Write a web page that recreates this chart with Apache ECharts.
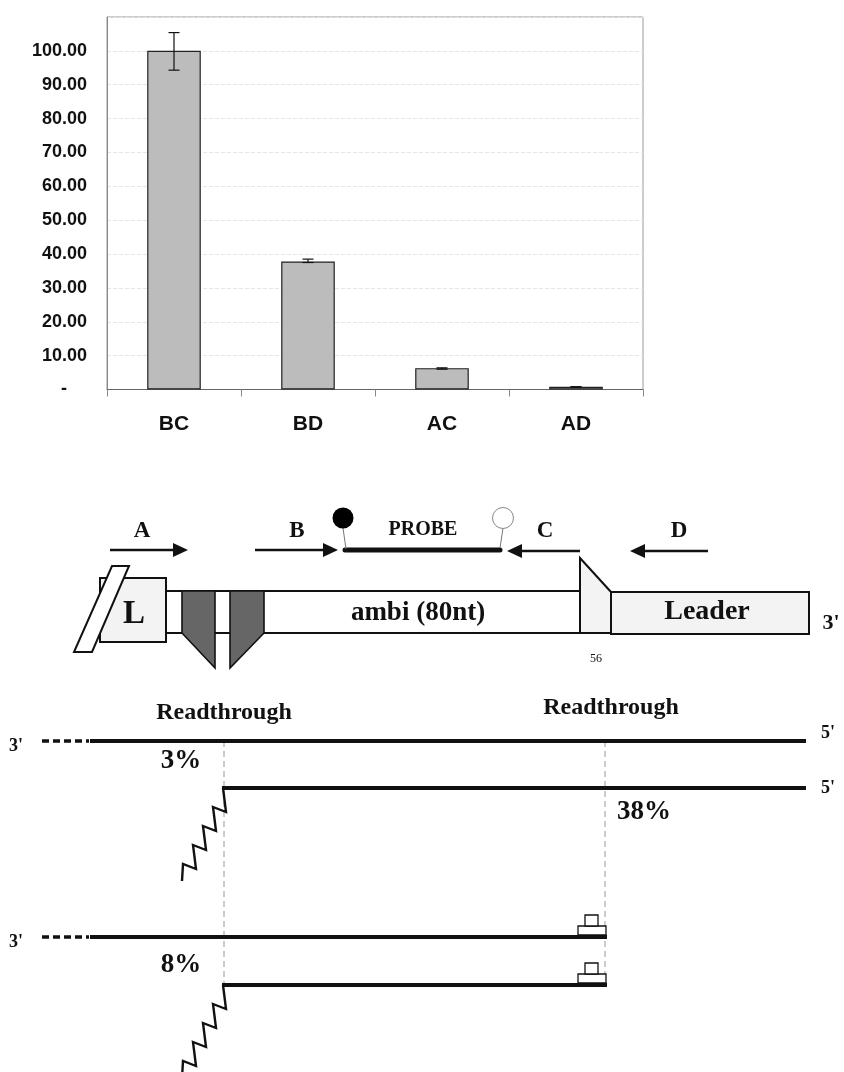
<!DOCTYPE html>
<html>
<head>
<meta charset="utf-8">
<script src="https://cdn.jsdelivr.net/npm/echarts@6/dist/echarts.min.js"></script>
<style>
html,body{margin:0;padding:0;background:#fff;}
#chart{width:844px;height:1072px;}
</style>
</head>
<body>
<div id="chart"></div>
<script>
// ---- chart data ----
var categories = ['BC', 'BD', 'AC', 'AD'];
var values = [100.0, 37.8, 6.3, 0.8];
var errLow = [94.3, 37.5, 6.0, 0.8];
var errHigh = [105.4, 38.5, 6.4, 0.8];
var yTicks = [0, 10, 20, 30, 40, 50, 60, 70, 80, 90, 100, 110];

// ---- schematic labels ----
var primerLabels = ['A', 'B', 'C', 'D'];
var probeLabel = 'PROBE';
var regionLabels = ['L', 'ambi (80nt)', 'Leader'];
var readthroughPct = ['3%', '38%', '8%'];

var chart = echarts.init(document.getElementById('chart'));

var serif = '"Liberation Serif", "Times New Roman", serif';
function txt(t, x, y, size, opts) {
  opts = opts || {};
  return {
    type: 'text', x: x, y: y, z: 10,
    style: {
      text: t,
      font: (opts.normal ? '' : 'bold ') + size + 'px ' + serif,
      fill: opts.fill || '#111',
      align: opts.align || 'center',
      verticalAlign: 'middle'
    }
  };
}
function ln(x1, y1, x2, y2, w, opts) {
  opts = opts || {};
  return {
    type: 'line', z: opts.z || 5,
    shape: {x1: x1, y1: y1, x2: x2, y2: y2},
    style: {stroke: opts.color || '#111', lineWidth: w, lineDash: opts.dash || null, lineCap: opts.cap || 'butt'}
  };
}
function poly(points, fill, w, z) {
  return {type: 'polygon', z: z || 5, shape: {points: points}, style: {fill: fill, stroke: '#111', lineWidth: w}};
}
function arrow(x1, x2, y) {
  var dir = x2 > x1 ? 1 : -1;
  var hl = 15, hh = 7;
  return [
    ln(x1, y, x2 - dir * hl + dir * 2, y, 2.6),
    {type: 'polygon', z: 5, shape: {points: [[x2, y], [x2 - dir * hl, y - hh], [x2 - dir * hl, y + hh]]}, style: {fill: '#111'}}
  ];
}
function zigzag(x0, y0) {
  var off = [[0,0],[3,24],[-10,19],[-7,43],[-20,38],[-17,62],[-30,57],[-27,81],[-40,76],[-41,93]];
  return {
    type: 'polyline', z: 6,
    shape: {points: off.map(function (p) { return [x0 + p[0], y0 + p[1]]; })},
    style: {stroke: '#111', lineWidth: 2.4, fill: null, lineJoin: 'miter'}
  };
}

var g = [];
// primers
g = g.concat(arrow(110, 188, 550), arrow(255, 338, 550), arrow(580, 507, 551), arrow(708, 630, 551));
g.push(txt(primerLabels[0], 142, 531, 23), txt(primerLabels[1], 297, 531, 23), txt(primerLabels[2], 545, 531, 23), txt(primerLabels[3], 679, 531, 23));
// probe
g.push(ln(345, 550, 500, 550, 5, {cap: 'round'}));
g.push(ln(343, 528, 346, 549, 1, {color: '#777'}));
g.push(ln(503, 528, 500, 548, 1, {color: '#777'}));
g.push({type: 'circle', z: 6, shape: {cx: 343, cy: 518, r: 10.5}, style: {fill: '#000'}});
g.push({type: 'circle', z: 6, shape: {cx: 503, cy: 518, r: 10.5}, style: {fill: '#fff', stroke: '#888', lineWidth: 1}});
g.push(txt(probeLabel, 423, 530, 20));
// construct
g.push({type: 'rect', z: 3, shape: {x: 100, y: 578, width: 66, height: 64}, style: {fill: '#f3f3f3', stroke: '#111', lineWidth: 2}});
g.push(poly([[112, 566], [129, 566], [92, 652], [74, 652]], '#fff', 2, 4));
g.push({type: 'rect', z: 3, shape: {x: 166, y: 591, width: 414, height: 42}, style: {fill: '#fff', stroke: '#111', lineWidth: 2}});
g.push(poly([[182, 591], [215, 591], [215, 668], [182, 633]], '#666', 1.6, 5));
g.push(poly([[230, 591], [264, 591], [264, 633], [230, 668]], '#666', 1.6, 5));
g.push(poly([[580, 558], [611, 592], [611, 633], [580, 633]], '#f3f3f3', 2, 4));
g.push({type: 'rect', z: 3, shape: {x: 611, y: 592, width: 198, height: 42}, style: {fill: '#f3f3f3', stroke: '#111', lineWidth: 2}});
g.push(txt(regionLabels[0], 134, 614, 33));
g.push(txt(regionLabels[1], 418, 613, 27));
g.push(txt(regionLabels[2], 707, 612, 28));
g.push(txt("3'", 831, 623, 22));
g.push(txt('56', 596, 659, 12, {normal: true}));
// readthrough section
g.push(txt('Readthrough', 224, 713, 24));
g.push(txt('Readthrough', 611, 708, 24));
g.push(ln(224, 741, 224, 985, 1, {color: '#999', dash: [6, 4]}));
g.push(ln(605, 741, 605, 985, 1, {color: '#999', dash: [6, 4]}));
// upper pair
g.push(txt("3'", 16, 746, 18));
g.push(ln(42, 741, 89, 741, 3.5, {dash: [7, 4]}));
g.push(ln(90, 741, 806, 741, 4));
g.push(txt("5'", 828, 733, 18));
g.push(txt(readthroughPct[0], 181, 761, 27));
g.push(ln(222, 788, 806, 788, 4));
g.push(txt("5'", 828, 788, 18));
g.push(txt(readthroughPct[1], 644, 812, 27));
g.push(zigzag(223, 788));
// lower pair
g.push(txt("3'", 16, 942, 18));
g.push(ln(42, 937, 89, 937, 3.5, {dash: [7, 4]}));
g.push(ln(90, 937, 607, 937, 4));
g.push(txt(readthroughPct[2], 181, 965, 27));
g.push(ln(222, 985, 607, 985, 4));
g.push(zigzag(223, 985));
[937, 985].forEach(function (y) {
  g.push({type: 'rect', z: 6, shape: {x: 578, y: y - 11, width: 28, height: 9}, style: {fill: '#fff', stroke: '#111', lineWidth: 1.3}});
  g.push({type: 'rect', z: 6, shape: {x: 585, y: y - 22, width: 13, height: 11}, style: {fill: '#fff', stroke: '#111', lineWidth: 1.3}});
});

var option = {
  backgroundColor: '#fff',
  animation: false,
  grid: {left: 107, top: 17, width: 536, height: 372.5, show: true, borderColor: '#9a9a9a', borderWidth: 1, backgroundColor: 'transparent'},
  xAxis: {
    type: 'category', data: categories,
    axisLine: {lineStyle: {color: '#666', width: 1}},
    axisTick: {show: true, alignWithLabel: false, length: 7, inside: false, lineStyle: {color: '#888'}},
    axisLabel: {margin: 24, color: '#111', fontFamily: 'Liberation Sans, Arial', fontWeight: 'bold', fontSize: 21},
    splitLine: {show: false}
  },
  yAxis: {
    type: 'value', min: yTicks[0], max: yTicks[yTicks.length - 1], interval: 10,
    axisLine: {show: true, lineStyle: {color: '#888'}},
    axisTick: {show: false},
    axisLabel: {
      margin: 20, color: '#111', fontFamily: 'Liberation Sans, Arial', fontWeight: 'bold', fontSize: 18,
      formatter: function (v) { if (v === 0) return '-    '; if (v === 110) return ''; return v.toFixed(2); }
    },
    splitLine: {show: true, lineStyle: {type: 'dashed', color: '#e6e6e6', width: 1}}
  },
  series: [
    {
      type: 'bar', data: values, barWidth: '40%',
      itemStyle: {color: '#bcbcbc', borderColor: '#222', borderWidth: 1.2}
    },
    {
      type: 'custom',
      data: categories.map(function (c, i) { return [i, errLow[i], errHigh[i]]; }),
      encode: {x: 0, y: [1, 2]},
      z: 5,
      renderItem: function (params, api) {
        var lo = api.coord([api.value(0), api.value(1)]);
        var hi = api.coord([api.value(0), api.value(2)]);
        var hw = 5.5;
        var st = {stroke: '#111', lineWidth: 1.2};
        return {
          type: 'group', children: [
            {type: 'line', shape: {x1: lo[0], y1: lo[1], x2: hi[0], y2: hi[1]}, style: st},
            {type: 'line', shape: {x1: lo[0] - hw, y1: lo[1], x2: lo[0] + hw, y2: lo[1]}, style: st},
            {type: 'line', shape: {x1: hi[0] - hw, y1: hi[1], x2: hi[0] + hw, y2: hi[1]}, style: st}
          ]
        };
      }
    }
  ],
  graphic: g
};
chart.setOption(option);
</script>
</body>
</html>
